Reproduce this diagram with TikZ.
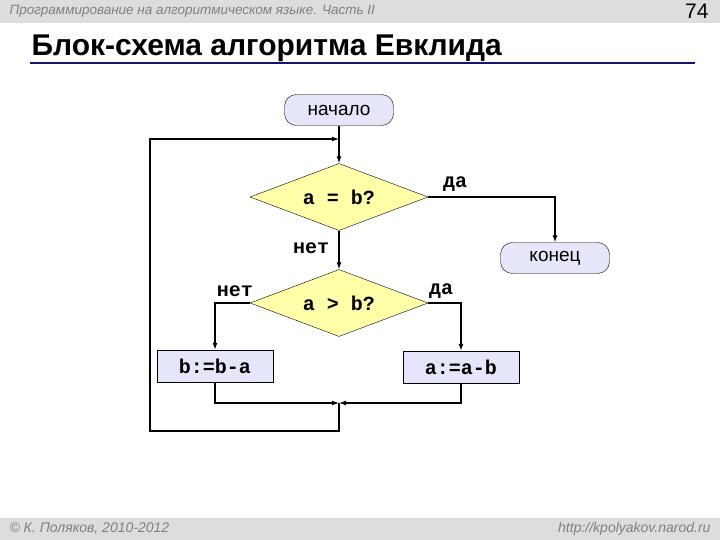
\documentclass[tikz,border=0pt]{standalone}
\usepackage{fontspec}
\setmainfont{Liberation Sans}
\newfontfamily\monofont{Liberation Mono}
\usetikzlibrary{shapes.geometric,arrows.meta,positioning}

\definecolor{bandgray}{RGB}{221,221,221}
\definecolor{boxblue}{RGB}{230,230,250}
\definecolor{decyellow}{RGB}{255,255,170}
\definecolor{rulenavy}{RGB}{20,20,110}

\tikzset{
  term/.style = {draw, rounded corners=12pt, fill=boxblue, minimum width=109pt,
                 minimum height=31pt, inner sep=0pt, font=\fontsize{19}{21}\selectfont},
  act/.style  = {draw, fill=boxblue, minimum width=116pt, minimum height=32pt,
                 inner sep=0pt, font=\monofont\bfseries\fontsize{20}{22}\selectfont},
  dec/.style  = {draw, diamond, aspect=2.66, fill=decyellow, minimum width=178pt,
                 minimum height=67pt, inner sep=0pt,
                 font=\monofont\bfseries\fontsize{20}{22}\selectfont},
  lbl/.style  = {font=\monofont\bfseries\fontsize{20}{22}\selectfont, inner sep=0pt},
  flow/.style = {line width=1.2pt, -{Latex[length=7pt,width=5pt]}},
  line/.style = {line width=1.2pt}
}

\begin{document}
\begin{tikzpicture}[x=1pt,y=-1pt]
\path[use as bounding box] (0,0) rectangle (720,540);

% header and footer
\fill[bandgray] (0,0) rectangle (720,23);
\fill[bandgray] (0,518) rectangle (720,540);
\node[anchor=west, text=gray, font=\itshape\fontsize{13.5}{16}\selectfont] (head) at (6,11)
  {Программирование на алгоритмическом языке. Часть II};
\node[anchor=east, font=\fontsize{21}{23}\selectfont] (page) at (712,11) {74};
\node[anchor=west, text=gray, font=\itshape\fontsize{14}{16}\selectfont] (foot) at (6,529)
  {© К. Поляков, 2010-2012};
\node[anchor=east, text=gray, font=\itshape\fontsize{14}{16}\selectfont] (url) at (714,529)
  {http://kpolyakov.narod.ru};
\node[anchor=west, font=\bfseries\fontsize{30}{33}\selectfont] (title) at (28,48)
  {Блок-схема алгоритма Евклида};
\draw[rulenavy, line width=2.5pt] (30,63) -- (695,63);

% blocks
\node[term] (start) at (339,110) {начало};
\node[dec]  (eq)    at (339,197) {a = b?};
\node[term] (stop)  at (555,258) {конец};
\node[dec]  (gt)    at (339,303) {a > b?};
\node[act]  (subb)  at (215,366) {b:=b-a};
\node[act]  (suba)  at (461,367) {a:=a-b};

\coordinate (top) at (339,139);
\coordinate (join) at (339,403);
\coordinate (loopl) at (150,431);

% labels
\node[lbl] (yes1) at (455,184) {да};
\node[lbl] (no1)  at (311,248) {нет};
\node[lbl] (no2)  at (235,291) {нет};
\node[lbl] (yes2) at (441,291) {да};

% connectors
\draw[line] (start) -- (top);
\draw[flow] (top) -- (eq);
\draw[flow] (eq.east) -| (stop);
\draw[flow] (eq) -- (gt);
\draw[flow] (gt.west) -| (subb);
\draw[flow] (gt.east) -| (suba);
\draw[flow] (subb) |- (join);
\draw[flow] (suba) |- (join);
\draw[flow] (join) |- (loopl) |- (top);
\end{tikzpicture}
\end{document}
